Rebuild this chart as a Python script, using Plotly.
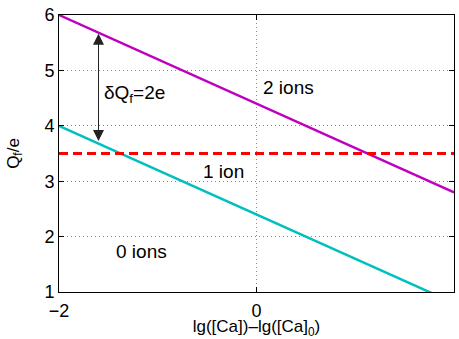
import plotly.graph_objects as go

x_vals = [-2, 2]
q_zero_to_one = [4.0, 0.8]      # cyan line (Q_f boundary 0/1 ions)
q_one_to_two = [6.0, 2.8]       # magenta line (boundary 1/2 ions)
q_threshold = [3.5, 3.5]        # red dashed line
arrow_x = -1.6
arrow_top = 5.66
arrow_bottom = 3.70
labels = [("2 ions", 0.05, 4.70), ("1 ion", -0.56, 3.17), ("0 ions", -1.44, 1.74)]

font = "Liberation Sans, Arial, sans-serif"

fig = go.Figure()
fig.add_trace(go.Scatter(x=x_vals, y=q_zero_to_one, mode="lines",
                         line=dict(color="#00BFBF", width=2.5), showlegend=False))
fig.add_trace(go.Scatter(x=x_vals, y=q_one_to_two, mode="lines",
                         line=dict(color="#BF00BF", width=2.5), showlegend=False))
fig.add_trace(go.Scatter(x=x_vals, y=q_threshold, mode="lines",
                         line=dict(color="#FF0000", width=3, dash="9px,5px"), showlegend=False))

fig.add_annotation(x=arrow_x, y=arrow_top, ax=arrow_x, ay=arrow_bottom,
                   xref="x", yref="y", axref="x", ayref="y", text="",
                   showarrow=True, arrowhead=2, arrowside="end+start",
                   arrowsize=2.2, arrowwidth=1, arrowcolor="#222222")
fig.add_annotation(x=-1.56, y=4.57, xref="x", yref="y", xanchor="left",
                   text="δQ<sub>f</sub>=2e", showarrow=False,
                   font=dict(size=19, color="black", family=font))
for t, xx, yy in labels:
    fig.add_annotation(x=xx, y=yy, xref="x", yref="y", xanchor="left",
                       text=t, showarrow=False,
                       font=dict(size=19, color="black", family=font))

axis_common = dict(showline=True, linecolor="black", linewidth=1, mirror="ticks",
                   ticks="inside", ticklen=5, tickcolor="black", automargin=False,
                   showgrid=True, gridcolor="#8a8a8a", griddash="1px,3px", gridwidth=1,
                   zeroline=False, tickfont=dict(size=18, color="black", family=font))

fig.update_xaxes(range=[-2, 2], tickvals=[-2, 0, 2], ticklabelstandoff=2, **axis_common,
                 title=dict(text="lg([Ca])–lg([Ca]<sub>0</sub>)", standoff=2,
                            font=dict(size=17, color="black", family=font)))
fig.update_yaxes(range=[1, 6], tickvals=[1, 2, 3, 4, 5, 6], **axis_common,
                 title=dict(text="Q<sub>f</sub>/e", standoff=20,
                            font=dict(size=17, color="black", family=font)))

fig.update_layout(width=459, height=339, margin=dict(l=59, r=5, t=15, b=47),
                  plot_bgcolor="white", paper_bgcolor="white")

fig.write_html("out.html", config={"displayModeBar": False},
               post_script="document.body.style.margin='0';")
